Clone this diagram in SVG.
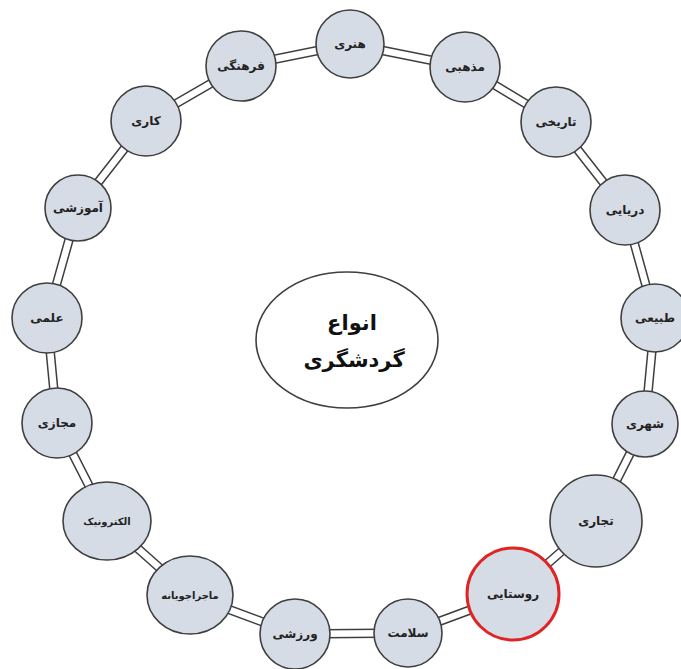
<svg xmlns="http://www.w3.org/2000/svg" width="681" height="669" viewBox="0 0 681 669">
<style>
.n{fill:#D6DCE5;stroke:#3F3F3F;stroke-width:1.6}
.hl{fill:#D6DCE5;stroke:#E02424;stroke-width:3}
.t{font-family:"DejaVu Sans","Noto Sans",sans-serif;font-size:12px;font-weight:bold;fill:#222;text-anchor:middle;dominant-baseline:central}
.c{font-family:"DejaVu Sans","Noto Sans",sans-serif;font-size:21px;font-weight:bold;fill:#111;text-anchor:middle}
.o{fill:none;stroke:#3F3F3F;stroke-width:9.5;stroke-linejoin:round}
.i{fill:none;stroke:#FFFFFF;stroke-width:6.5;stroke-linejoin:round}
</style>
<rect width="681" height="669" fill="#FFFFFF"/>
<g id="connectors">
<polygon class="o" points="350,44 465,67 556,122 625,210 655,318 645,424 596,521 513,594 408,633 295,634 190,595 107,521 57,423 47,318 78,208 146,121 241,66"/>
<polygon class="i" points="350,44 465,67 556,122 625,210 655,318 645,424 596,521 513,594 408,633 295,634 190,595 107,521 57,423 47,318 78,208 146,121 241,66"/>
</g>
<g id="center">
<ellipse cx="347" cy="340" rx="91" ry="68" fill="#FFFFFF" stroke="#3F3F3F" stroke-width="1.6"/>
<text class="c" x="352" y="330">انواع</text>
<text class="c" x="354" y="367">گردشگری</text>
</g>
<g id="n-honari"><circle class="n" cx="350" cy="44" r="34"/><text class="t" x="350" y="44">هنری</text></g>
<g id="n-mazhabi"><circle class="n" cx="465" cy="67" r="35"/><text class="t" x="465" y="67">مذهبی</text></g>
<g id="n-tarikhi"><circle class="n" cx="556" cy="122" r="35"/><text class="t" x="556" y="122">تاریخی</text></g>
<g id="n-daryaei"><circle class="n" cx="625" cy="210" r="35"/><text class="t" x="625" y="210">دریایی</text></g>
<g id="n-tabiei"><circle class="n" cx="655" cy="318" r="34"/><text class="t" x="655" y="318">طبیعی</text></g>
<g id="n-shahri"><circle class="n" cx="645" cy="424" r="33"/><text class="t" x="645" y="424">شهری</text></g>
<g id="n-tejari"><circle class="n" cx="596" cy="521" r="46"/><text class="t" x="596" y="521">تجاری</text></g>
<g id="n-roostaei"><circle class="hl" cx="513" cy="594" r="46"/><text class="t" x="513" y="594">روستایی</text></g>
<g id="n-salamat"><circle class="n" cx="408" cy="633" r="34"/><text class="t" x="408" y="633">سلامت</text></g>
<g id="n-varzeshi"><circle class="n" cx="295" cy="634" r="35"/><text class="t" x="295" y="634">ورزشی</text></g>
<g id="n-majarajooyane"><ellipse class="n" cx="190" cy="595" rx="43" ry="39"/><text class="t" x="190" y="595" style="font-size:10px">ماجراجویانه</text></g>
<g id="n-electronic"><ellipse class="n" cx="107" cy="521" rx="44" ry="39"/><text class="t" x="107" y="521" style="font-size:10px">الکترونیک</text></g>
<g id="n-majazi"><circle class="n" cx="57" cy="423" r="35"/><text class="t" x="57" y="423">مجازی</text></g>
<g id="n-elmi"><circle class="n" cx="47" cy="318" r="35"/><text class="t" x="47" y="318">علمی</text></g>
<g id="n-amoozeshi"><circle class="n" cx="78" cy="208" r="33"/><text class="t" x="78" y="208">آموزشی</text></g>
<g id="n-kari"><circle class="n" cx="146" cy="121" r="35"/><text class="t" x="146" y="121">کاری</text></g>
<g id="n-farhangi"><circle class="n" cx="241" cy="66" r="35"/><text class="t" x="241" y="66">فرهنگی</text></g>
</svg>
